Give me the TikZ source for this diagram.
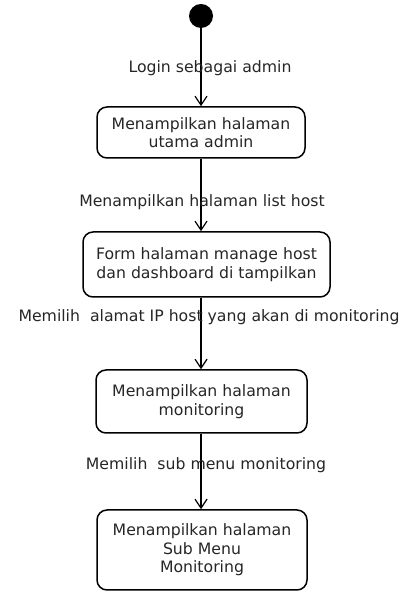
\documentclass[tikz,border=0pt]{standalone}
\usepackage{fontspec}
\setmainfont{DejaVu Sans}
\usetikzlibrary{arrows.meta}
\begin{document}
\begin{tikzpicture}[x=1pt,y=1pt,
  every node/.style={font=\fontsize{15.7}{18.5}\selectfont, text=black!85},
  state/.style={draw=black, line width=1.5pt, rounded corners=10pt, align=center, inner sep=0pt},
  arr/.style={draw=black, line width=1.4pt, -{Straight Barb[length=9pt,width=12pt,line width=1.2pt]}},
  lbl/.style={fill=none}]
\useasboundingbox (0,0) rectangle (403,594);
\node[circle, fill=black, minimum size=24pt, inner sep=0pt] (start) at (201,578) {};
\node[state, minimum width=208pt, minimum height=51pt] (b1) at (201,461.5) {Menampilkan halaman\\utama admin};
\node[state, minimum width=247pt, minimum height=65pt] (b2) at (206.5,329.5) {Form halaman manage host\\dan dashboard di tampilkan};
\node[state, minimum width=211pt, minimum height=63pt] (b3) at (201.5,192.5) {Menampilkan halaman\\monitoring};
\node[state, minimum width=210pt, minimum height=80pt] (b4) at (202,44) {Menampilkan halaman\\Sub Menu\\Monitoring};
\draw[arr] (start) -- (start |- b1.north);
\draw[arr] (start |- b1.south) -- (start |- b2.north);
\draw[arr] (start |- b2.south) -- (start |- b3.north);
\draw[arr] (start |- b3.south) -- (start |- b4.north);
\node[lbl] (l1) at (210,526) {Login sebagai admin};
\node[lbl] (l2) at (202,392) {Menampilkan halaman list host};
\node[lbl] (l3) at (209,277) {Memilih\ \ alamat IP host yang akan di monitoring};
\node[lbl] (l4) at (206,129) {Memilih\ \ sub menu monitoring};
\end{tikzpicture}
\end{document}
